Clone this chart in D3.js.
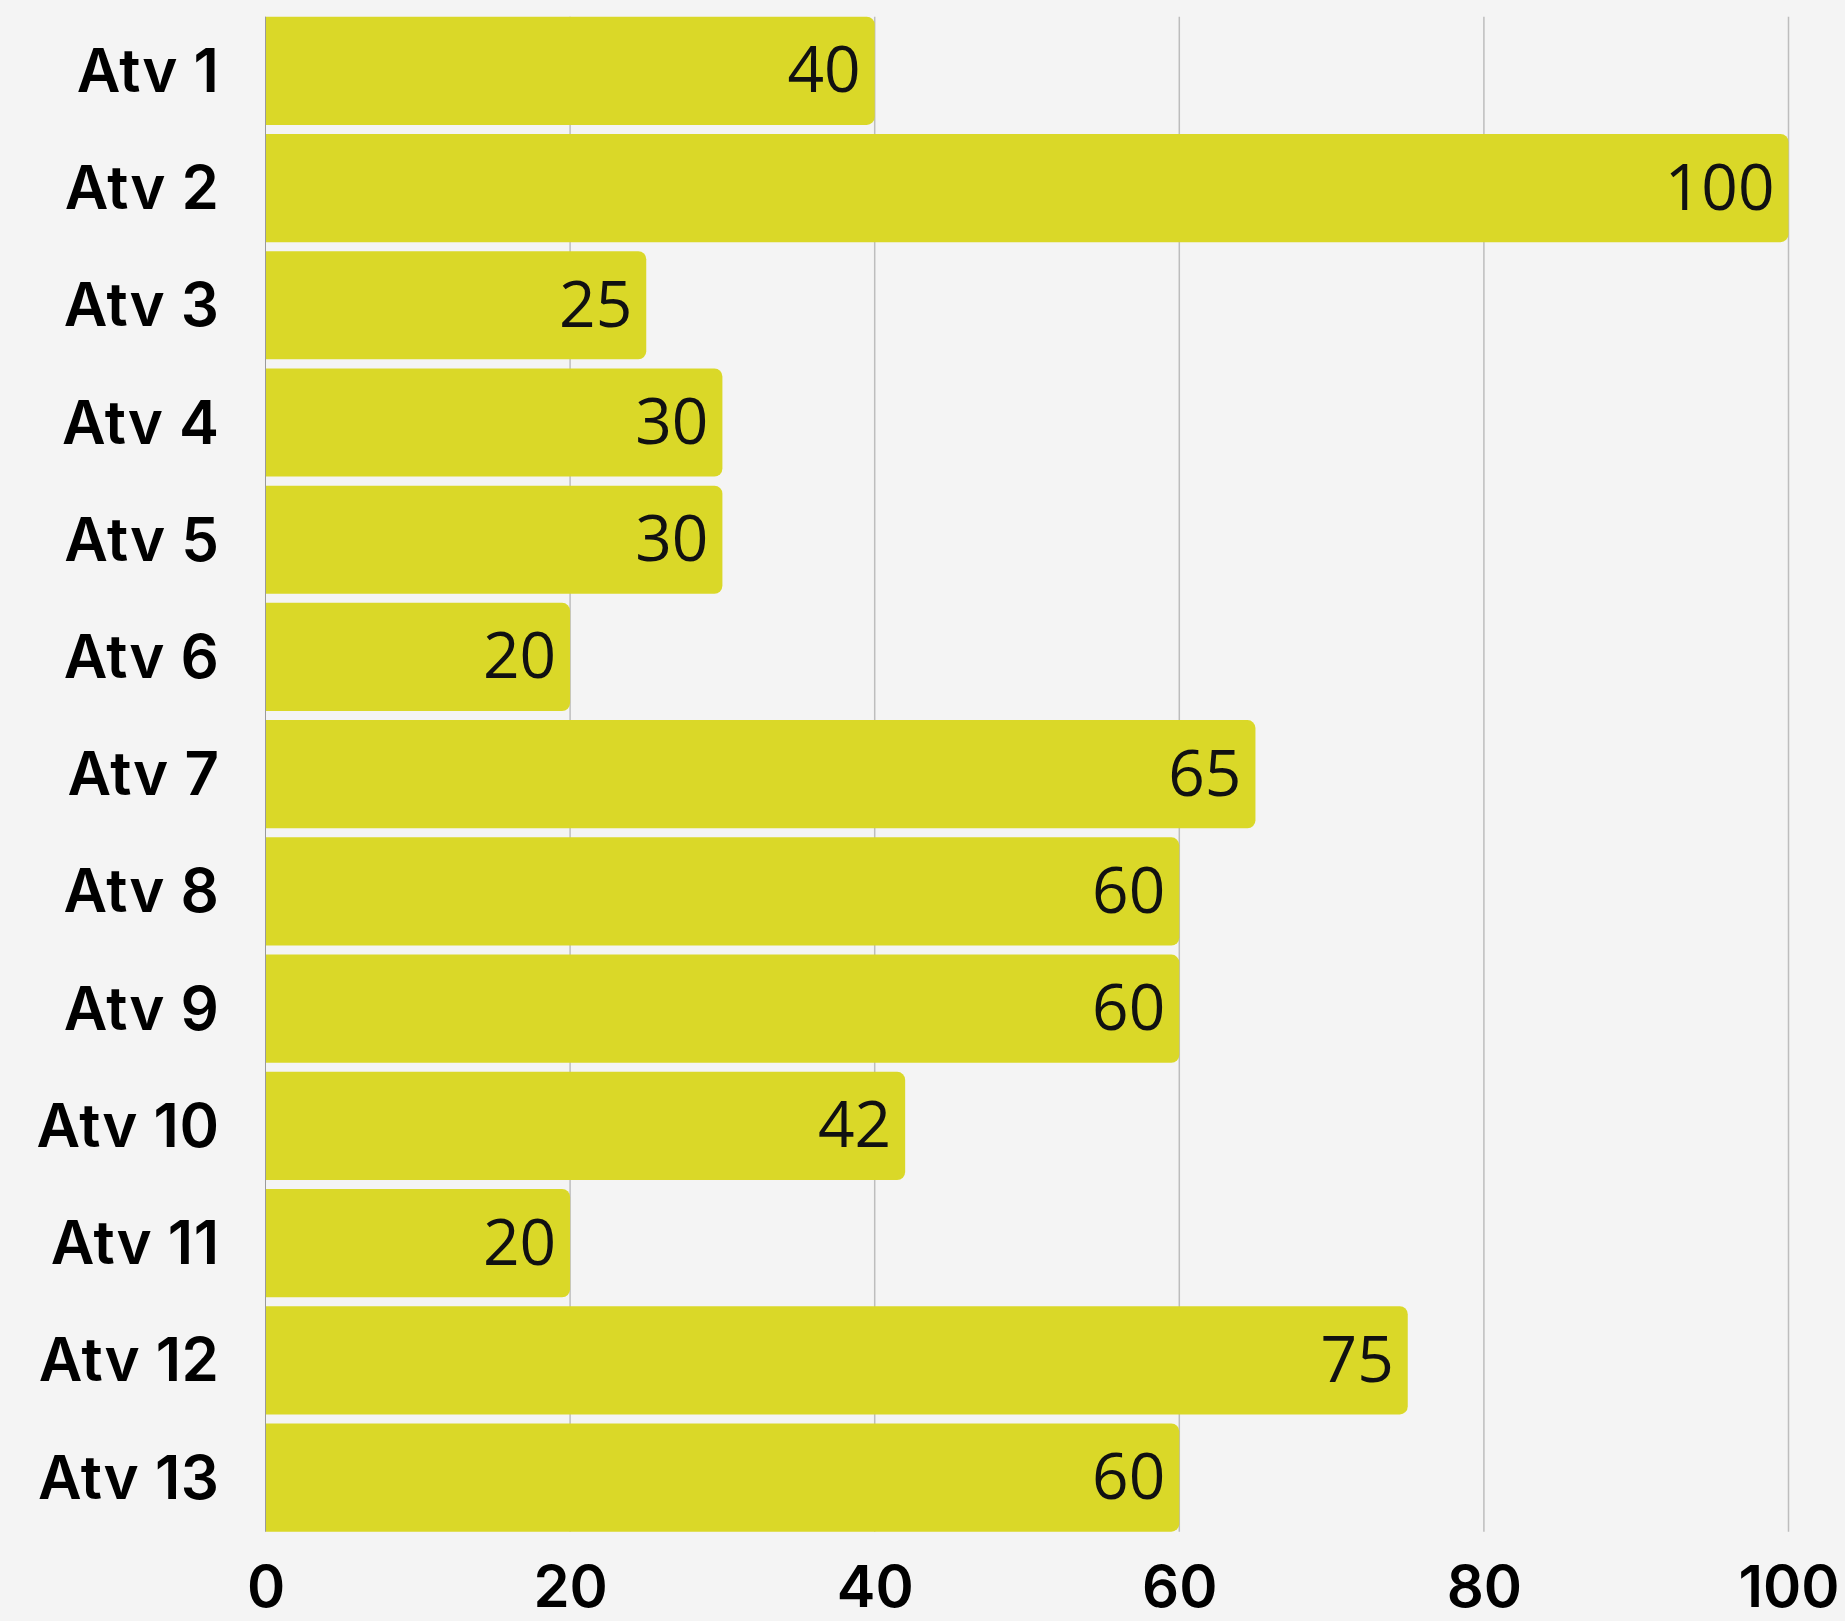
<!DOCTYPE html>
<html>
<head>
<meta charset="utf-8">
<script src="https://cdn.jsdelivr.net/npm/d3@7"></script>
<style>
  html, body { margin: 0; padding: 0; background: #f4f4f4; }
  svg { display: block; }
</style>
</head>
<body>
<svg id="chart" width="1845" height="1621"></svg>
<script>
const categories = ["Atv 1","Atv 2","Atv 3","Atv 4","Atv 5","Atv 6","Atv 7","Atv 8","Atv 9","Atv 10","Atv 11","Atv 12","Atv 13"];
const values = [40,100,25,30,30,20,65,60,60,42,20,75,60];
const xTicks = [0,20,40,60,80,100];

(function () {
const svg = d3.select("#chart");
const W = 1845, H = 1621;
svg.append("rect").attr("width", W).attr("height", H).attr("fill", "#f4f4f4");

const pLeft = 265.5, pRight = 1788.5, pTop = 16.7, pBottom = 1531.7;

const x = d3.scaleLinear().domain([0, 100]).range([pLeft, pRight]);
const y = d3.scaleBand().domain(categories).range([pTop, pBottom]).paddingInner(0.077).paddingOuter(0);

// gridlines
svg.append("g").selectAll("line").data(xTicks.filter(d => d > 0)).join("line")
  .attr("x1", d => x(d)).attr("x2", d => x(d))
  .attr("y1", pTop).attr("y2", pBottom)
  .attr("stroke", "#bdbdbd").attr("stroke-width", 1.5);

// bars with rounded right corners
const r = 8;
function barPath(v, cat) {
  const x0 = x(0), x1 = x(v), y0 = y(cat), h = y.bandwidth();
  const p = d3.path();
  p.moveTo(x0, y0);
  p.lineTo(x1 - r, y0);
  p.arcTo(x1, y0, x1, y0 + r, r);
  p.lineTo(x1, y0 + h - r);
  p.arcTo(x1, y0 + h, x1 - r, y0 + h, r);
  p.lineTo(x0, y0 + h);
  p.closePath();
  return p.toString();
}
svg.append("g").selectAll("path").data(values).join("path")
  .attr("d", (d, i) => barPath(d, categories[i]))
  .attr("fill", "#dad828");

// left axis line
svg.append("line").attr("x1", x(0)).attr("x2", x(0)).attr("y1", pTop).attr("y2", pBottom)
  .attr("stroke", "#9a9a9a").attr("stroke-width", 1);

// value labels
svg.append("g").selectAll("text").data(values).join("text")
  .attr("x", d => x(d) - 14)
  .attr("y", (d, i) => y(categories[i]) + y.bandwidth() / 2 - 3)
  .attr("text-anchor", "end")
  .attr("dominant-baseline", "central")
  .attr("font-family", "'Open Sans', 'Noto Sans', sans-serif")
  .attr("font-size", 64)
  .attr("fill", "#111")
  .text(d => d);

// category labels
const yAxis = d3.axisLeft(y).tickSize(0).tickPadding(46);
const gy = svg.append("g").attr("transform", `translate(${pLeft},0)`).call(yAxis);
gy.select(".domain").remove();
gy.selectAll("text")
  .attr("font-family", "Inter, Lato, sans-serif")
  .attr("font-weight", 600)
  .attr("font-size", 60)
  .attr("letter-spacing", 0.5)
  .attr("fill", "#000")
  .attr("dy", "0.35em");

// x axis tick labels
const xAxis = d3.axisBottom(x).tickValues(xTicks).tickSize(0).tickPadding(0);
const gx = svg.append("g").attr("transform", `translate(0,${pBottom})`).call(xAxis);
gx.select(".domain").remove();
gx.selectAll("text")
  .attr("font-family", "Inter, Lato, sans-serif")
  .attr("font-weight", 600)
  .attr("font-size", 58)
  .attr("fill", "#000")
  .attr("y", 75)
  .attr("dy", 0);
})();
</script>
</body>
</html>
